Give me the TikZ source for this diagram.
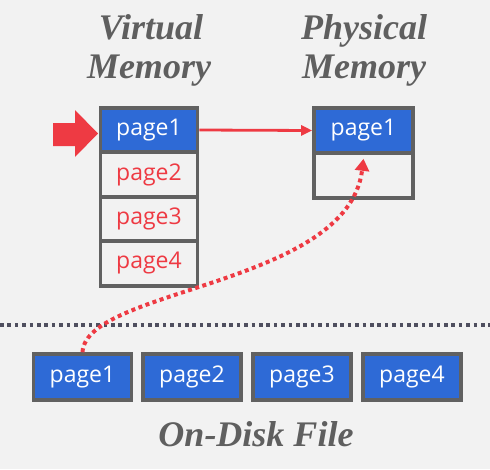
\documentclass[tikz,border=0pt]{standalone}
\usepackage{fontspec}
\newfontfamily\osans{Open Sans}
\newfontfamily\tfont{Liberation Serif}
\usetikzlibrary{arrows.meta,calc}
\definecolor{bg}{HTML}{F2F2F2}
\definecolor{blu}{HTML}{2E6AD6}
\definecolor{redc}{HTML}{EE3A43}
\definecolor{bord}{HTML}{616161}
\definecolor{titlec}{HTML}{5F5F5F}
\definecolor{dotc}{HTML}{4F4F5F}
\tikzset{
  pagebox/.style={draw=bord, line width=3.6pt, inner sep=0pt, text=redc,
    font=\osans\fontsize{23}{23}\selectfont},
  vmrow/.style={pagebox, minimum width=97pt, minimum height=44.5pt},
  pmrow/.style={pagebox, minimum width=99pt, minimum height=45pt},
  diskbox/.style={pagebox, minimum width=98pt, minimum height=46pt, fill=blu, text=white},
  hot/.style={fill=blu, text=white},
  title/.style={anchor=base, text=titlec, inner sep=0pt,
    font=\tfont\bfseries\itshape\fontsize{36}{38}\selectfont},
}
\begin{document}
\begin{tikzpicture}[x=1pt,y=-1pt]
\fill[bg] (0,0) rectangle (490,469);
\useasboundingbox (0,0) rectangle (490,469);
% titles
\node[title] (vt1) at (151,39) {Virtual};
\node[title] (vt2) at (149,78) {Memory};
\node[title] (pt1) at (364,39) {Physical};
\node[title] (pt2) at (364,78) {Memory};
\node[title] (dt) at (256,446) {On-Disk File};
% virtual memory
\node[vmrow,hot] (v1) at (149,130) {page1};
\node[vmrow] (v2) at (149,174.5) {page2};
\node[vmrow] (v3) at (149,219) {page3};
\node[vmrow] (v4) at (149,263.5) {page4};
% physical memory
\node[pmrow,hot] (p1) at (363.5,130.5) {page1};
\node[pmrow] (p2) at (363.5,175.5) {};
% disk
\node[diskbox] (d1) at (82.5,377) {page1};
\node[diskbox] (d2) at (192,377) {page2};
\node[diskbox] (d3) at (302,377) {page3};
\node[diskbox] (d4) at (412,377) {page4};
% red block arrow
\fill[redc] (53,123) -- (75,123) -- (75,110) -- (98,133.5) -- (75,157) -- (75,146) -- (53,146) -- cycle;
% mapping arrow
\draw[redc, line width=2.8pt, -{Triangle[length=11pt,width=10pt]}] (v1.east) -- (p1.west);
% separator
\coordinate (dl) at (0,325);
\coordinate (dr) at (490,325);
\draw[dotc, line width=3.6pt, dash pattern=on 3.6pt off 3.8pt] (dl) -- (dr);
% page fault load
\draw[redc, line width=4pt, dash pattern=on 4pt off 3.5pt, -{Triangle[length=12pt,width=14pt]}]
  (d1.north) .. controls (86,288) and (348,286) .. ($(p1.south)+(0,4)$);
\end{tikzpicture}
\end{document}
